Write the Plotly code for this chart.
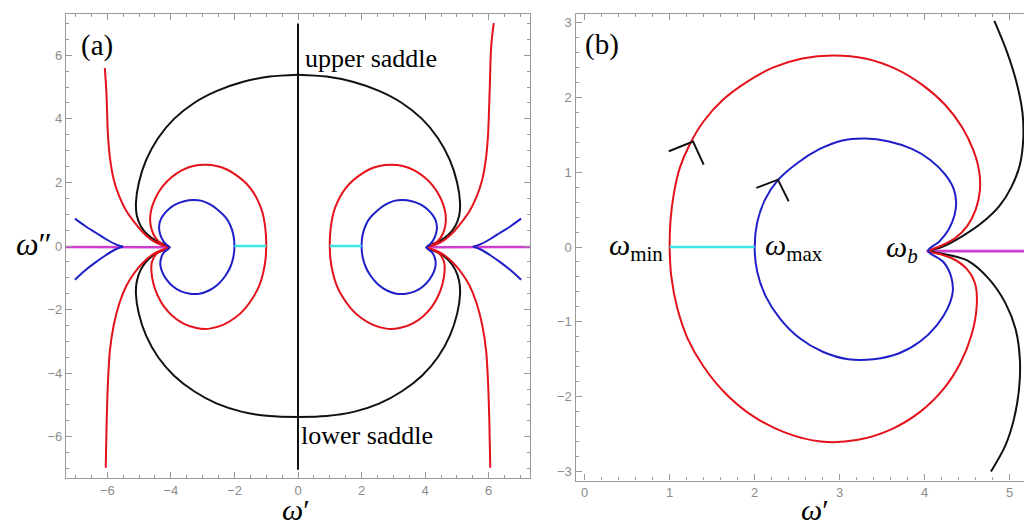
import plotly.graph_objects as go

# ---------------- data (right half, data coords) ----------------
# inner blue loop (shared by both panels)
blue_loop_x = [4.04, 4.17, 4.28, 4.35, 4.37, 4.34, 4.24, 4.07, 3.85, 3.58, 3.3, 3.02, 2.75, 2.5, 2.27, 2.12, 2.03, 2.0,
               2.03, 2.13, 2.3, 2.53, 2.8, 3.1, 3.4, 3.7, 3.95, 4.14, 4.27, 4.33, 4.31, 4.22, 4.04]
blue_loop_y = [-0.05, 0.07, 0.23, 0.42, 0.6, 0.78, 0.97, 1.16, 1.31, 1.41, 1.45, 1.42, 1.3, 1.12, 0.89, 0.63, 0.33, 0.0,
               -0.33, -0.66, -0.96, -1.22, -1.4, -1.5, -1.5, -1.42, -1.26, -1.05, -0.82, -0.6, -0.39, -0.2, -0.05]

# red loop (shared by both panels)
red_loop_x = [4.04, 4.2, 4.36, 4.5, 4.6, 4.65, 4.64, 4.57, 4.44, 4.24, 3.98, 3.66, 3.3, 2.92, 2.56, 2.22, 1.9,
              1.62, 1.4, 1.24, 1.12, 1.05, 1.01, 1.0, 1.02, 1.09, 1.21, 1.4, 1.66, 1.98, 2.36, 2.78, 3.2, 3.6, 3.95,
              4.22, 4.42, 4.55, 4.61, 4.6, 4.5, 4.32, 4.04]
red_loop_y = [-0.05, 0.02, 0.12, 0.28, 0.5, 0.76, 1.02, 1.3, 1.6, 1.9, 2.16, 2.38, 2.52, 2.56, 2.52, 2.4, 2.2,
              1.96, 1.68, 1.38, 1.06, 0.72, 0.36, 0.0, -0.4, -0.82, -1.22, -1.6, -1.96, -2.26, -2.48, -2.6, -2.58,
              -2.44, -2.2, -1.9, -1.55, -1.18, -0.82, -0.52, -0.3, -0.15, -0.06]

# panel (a): big black saddle arc (right half)
black_arc_x = [0.0, 0.9, 1.75, 2.55, 3.27, 3.9, 4.4, 4.78, 5.01, 5.1, 5.07, 4.95, 4.74, 4.45, 4.04,
               4.45, 4.74, 4.95, 5.07, 5.1, 5.01, 4.78, 4.4, 3.9, 3.27, 2.55, 1.75, 0.9, 0.0]
black_arc_y = [5.39, 5.33, 5.16, 4.88, 4.5, 4.0, 3.4, 2.7, 1.98, 1.35, 0.95, 0.63, 0.36, 0.15, -0.04,
               -0.22, -0.45, -0.75, -1.1, -1.5, -2.12, -2.82, -3.5, -4.08, -4.57, -4.96, -5.22, -5.35, -5.38]

# panel (a): black vertical steepest path through the saddles
black_vert_x = [0.0, 0.0]
black_vert_y = [7.0, -7.04]

# panel (a): outer red branches (right side)
red_up_x = [4.04, 4.35, 4.62, 4.9, 5.15, 5.4, 5.62, 5.8, 5.92, 5.98, 6.03, 6.08, 6.16]
red_up_y = [-0.04, 0.05, 0.2, 0.45, 0.75, 1.1, 1.55, 2.1, 2.8, 3.5, 4.86, 6.3, 7.01]
red_dn_x = [4.04, 4.35, 4.62, 4.9, 5.15, 5.4, 5.62, 5.8, 5.92, 5.98, 6.02, 6.05]
red_dn_y = [-0.06, -0.15, -0.3, -0.55, -0.85, -1.25, -1.8, -2.5, -3.3, -4.3, -5.5, -6.98]
# left upper outer red branch (shorter than the right one)
red_up_left_x = [-4.04, -4.35, -4.62, -4.9, -5.15, -5.4, -5.62, -5.8, -5.92, -5.98, -6.03, -6.08]
red_up_left_y = [-0.04, 0.05, 0.2, 0.45, 0.75, 1.1, 1.55, 2.1, 2.8, 3.5, 4.86, 5.6]

# panel (a): outer blue branches (right side)
blue_out_up_x = [5.5, 5.75, 6.05, 6.35, 6.7, 7.02]
blue_out_up_y = [-0.02, 0.06, 0.22, 0.41, 0.63, 0.86]
blue_out_dn_x = [5.5, 5.75, 6.05, 6.35, 6.7, 7.02]
blue_out_dn_y = [-0.02, -0.11, -0.29, -0.5, -0.77, -1.06]

# panel (a): branch cut (magenta) and cyan segment
mag_a_x = [4.04, 7.3]
mag_a_y = [-0.04, -0.03]
cyan_a_x = [1.0, 2.0]
cyan_a_y = [0.0, 0.0]

# panel (b): black curves
black_b_up_x = [4.82, 4.97, 5.08, 5.15, 5.16, 5.12, 5.02, 4.88, 4.68, 4.45, 4.2, 4.04]
black_b_up_y = [3.02, 2.6, 2.2, 1.8, 1.45, 1.1, 0.8, 0.55, 0.33, 0.15, 0.0, -0.05]
black_b_dn_x = [4.04, 4.25, 4.5, 4.75, 4.95, 5.07, 5.12, 5.11, 5.05, 4.95, 4.78]
black_b_dn_y = [-0.06, -0.1, -0.18, -0.42, -0.75, -1.1, -1.5, -1.9, -2.3, -2.65, -3.0]
mag_b_x = [4.02, 5.4]
mag_b_y = [-0.055, -0.055]
cyan_b_x = [1.0, 2.0]
cyan_b_y = [0.0, 0.0]
# direction chevrons
arrow_red_x = [0.99, 1.275, 1.40]
arrow_red_y = [1.28, 1.41, 1.10]
arrow_blue_x = [2.02, 2.274, 2.40]
arrow_blue_y = [0.79, 0.90, 0.61]

# ticks
xa_ticks = [-6, -4, -2, 0, 2, 4, 6]
ya_ticks = [-6, -4, -2, 0, 2, 4, 6]
xb_ticks = [0, 1, 2, 3, 4, 5]
yb_ticks = [-3, -2, -1, 0, 1, 2, 3]

RED = "#e3121b"
BLUE = "#1f1fc8"
BLACK = "#111111"
MAG = "#cf3fcf"
CYAN = "#3fe6e6"


def neg(a):
    return [-v for v in a]


fig = go.Figure()


def add(x, y, color, width=2.0, xa="x", ya="y", shape="spline"):
    fig.add_trace(go.Scatter(x=x, y=y, mode="lines", xaxis=xa, yaxis=ya,
                             line=dict(color=color, width=width, shape=shape, smoothing=0.9),
                             hoverinfo="skip", showlegend=False))


# ----- panel (a) -----
add(mag_a_x, mag_a_y, MAG, 2.6, shape="linear")
add(neg(mag_a_x), mag_a_y, MAG, 2.6, shape="linear")
add(black_vert_x, black_vert_y, BLACK, 2.0, shape="linear")
add(black_arc_x, black_arc_y, BLACK)
add(neg(black_arc_x), black_arc_y, BLACK)
add(red_up_x, red_up_y, RED)
add(red_dn_x, red_dn_y, RED)
add(red_up_left_x, red_up_left_y, RED)
add(neg(red_dn_x), red_dn_y, RED)
add(blue_out_up_x, blue_out_up_y, BLUE)
add(blue_out_dn_x, blue_out_dn_y, BLUE)
add(neg(blue_out_up_x), blue_out_up_y, BLUE)
add(neg(blue_out_dn_x), blue_out_dn_y, BLUE)
add(red_loop_x, red_loop_y, RED)
add(neg(red_loop_x), red_loop_y, RED)
add(blue_loop_x, blue_loop_y, BLUE)
add(neg(blue_loop_x), blue_loop_y, BLUE)
add(cyan_a_x, cyan_a_y, CYAN, 2.6, shape="linear")
add(neg(cyan_a_x), cyan_a_y, CYAN, 2.6, shape="linear")

# ----- panel (b) -----
add(mag_b_x, mag_b_y, MAG, 2.6, "x2", "y2", "linear")
add(black_b_up_x, black_b_up_y, BLACK, 2.0, "x2", "y2")
add(black_b_dn_x, black_b_dn_y, BLACK, 2.0, "x2", "y2")
add(red_loop_x, red_loop_y, RED, 2.0, "x2", "y2")
add(blue_loop_x, blue_loop_y, BLUE, 2.0, "x2", "y2")
add(cyan_b_x, cyan_b_y, CYAN, 2.6, "x2", "y2", "linear")
add(arrow_red_x, arrow_red_y, BLACK, 2.0, "x2", "y2", "linear")
add(arrow_blue_x, arrow_blue_y, BLACK, 2.0, "x2", "y2", "linear")

W, H = 1032, 523
FRAME = "#9a9a9a"
tickfont = dict(family="Liberation Sans, Arial, sans-serif", size=13, color="#8c8c8c")


def axis(dom, rng, ticks, minor, **kw):
    d = dict(domain=dom, range=rng, tickvals=ticks, showgrid=False, zeroline=False,
             showline=True, linecolor=FRAME, linewidth=1.2, mirror="allticks",
             ticks="inside", ticklen=6, tickwidth=1, tickcolor=FRAME, tickfont=tickfont,
             minor=dict(dtick=minor, ticks="inside", ticklen=3, tickcolor=FRAME, tickwidth=1, showgrid=False),
             fixedrange=True)
    d.update(kw)
    return d


fig.update_layout(
    width=W, height=H, margin=dict(l=0, r=0, t=0, b=0),
    paper_bgcolor="white", plot_bgcolor="white",
    xaxis=axis([58 / W, 522 / W], [-7.3, 7.3], xa_ticks, 0.5, anchor="y", tick0=0),
    yaxis=axis([1 - 470 / H, 1 - 6 / H], [-7.3, 7.3], ya_ticks, 0.5, anchor="x", tick0=0),
    xaxis2=axis([567.5 / W, 1031 / W], [-0.108, 5.345], xb_ticks, 0.2, anchor="y2", tick0=0),
    yaxis2=axis([1 - 472.5 / H, 1 - 5.5 / H], [-3.12, 3.12], yb_ticks, 0.2, anchor="x2", tick0=0),
)

serif = "Liberation Serif, Times New Roman, serif"
ann = []
ann.append(dict(x=-6.9, y=6.32, xref="x", yref="y", text="(a)", showarrow=False, xanchor="left",
                yanchor="middle", font=dict(family=serif, size=29, color="black")))
ann.append(dict(x=0.15, y=5.91, xref="x", yref="y", text="upper saddle", showarrow=False, xanchor="left",
                yanchor="middle", font=dict(family=serif, size=26, color="black")))
ann.append(dict(x=0.03, y=-5.97, xref="x", yref="y", text="lower saddle", showarrow=False, xanchor="left",
                yanchor="middle", font=dict(family=serif, size=26, color="black")))
ann.append(dict(x=-0.02, y=2.70, xref="x2", yref="y2", text="(b)", showarrow=False, xanchor="left",
                yanchor="middle", font=dict(family=serif, size=29, color="black")))
ann.append(dict(x=0.95, y=0.0, xref="x2", yref="y2", text="<i>ω</i><sub>min</sub>", showarrow=False,
                xanchor="right", yanchor="middle", font=dict(family=serif, size=30, color="black")))
ann.append(dict(x=2.1, y=0.0, xref="x2", yref="y2", text="<i>ω</i><sub>max</sub>", showarrow=False,
                xanchor="left", yanchor="middle", font=dict(family=serif, size=30, color="black")))
ann.append(dict(x=3.95, y=-0.02, xref="x2", yref="y2", text="<i>ω<sub>b</sub></i>", showarrow=False,
                xanchor="right", yanchor="middle", font=dict(family=serif, size=30, color="black")))
# axis titles
ann.append(dict(x=288 / W, y=3 / H, xref="paper", yref="paper", text="<i>ω</i>′", showarrow=False,
                xanchor="center", yanchor="bottom", font=dict(family=serif, size=30, color="black")))
ann.append(dict(x=807 / W, y=3 / H, xref="paper", yref="paper", text="<i>ω</i>′", showarrow=False,
                xanchor="center", yanchor="bottom", font=dict(family=serif, size=30, color="black")))
ann.append(dict(x=26 / W, y=1 - 236 / H, xref="paper", yref="paper", text="<i>ω</i>″", showarrow=False,
                xanchor="center", yanchor="middle", font=dict(family=serif, size=32, color="black")))
fig.update_layout(annotations=ann)

fig.write_html("out.html")
